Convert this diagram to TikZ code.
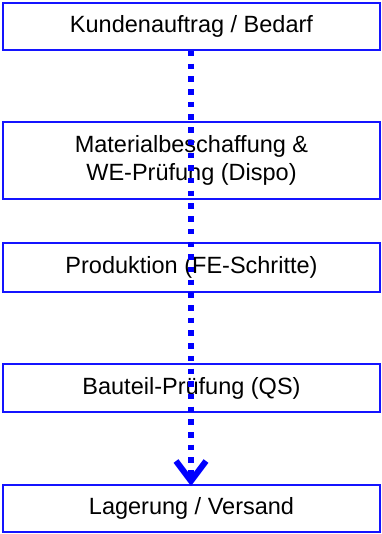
\documentclass[tikz,border=0pt]{standalone}
\usepackage{fontspec}
\setmainfont{Liberation Sans}
\usetikzlibrary{arrows.meta}
\definecolor{boxblue}{RGB}{20,20,255}
\definecolor{lineblue}{RGB}{0,0,255}
\begin{document}
\begin{tikzpicture}[x=1pt,y=-1pt,
  stepbox/.style={draw=boxblue, line width=2pt, fill=white, minimum width=377pt, inner sep=0pt, align=center, font=\fontsize{23.5}{28.5}\selectfont, text=black},
  flow/.style={draw=lineblue, line width=6.5pt, dash pattern=on 5.5pt off 7.2pt, -{Straight Barb[length=20pt,width=30pt,line width=6pt]}}]
\useasboundingbox (0,0) rectangle (381,534);
\node[stepbox, minimum height=47pt] (b1) at (191.5,26.5) {Kundenauftrag / Bedarf};
\node[stepbox, minimum height=77pt] (b2) at (191.5,160.5) {Materialbeschaffung \&\\WE-Prüfung (Dispo)};
\node[stepbox, minimum height=49pt] (b3) at (191.5,267.5) {Produktion (FE-Schritte)};
\node[stepbox, minimum height=48pt] (b4) at (191.5,388) {Bauteil-Prüfung (QS)};
\node[stepbox, minimum height=47pt] (b5) at (191.5,508.5) {Lagerung / Versand};
\coordinate (tip) at ([yshift=-2pt]b5.north);
\draw[flow] ([xshift=-0.5pt]b1.south) -- ([xshift=-0.5pt]tip);
\end{tikzpicture}
\end{document}
